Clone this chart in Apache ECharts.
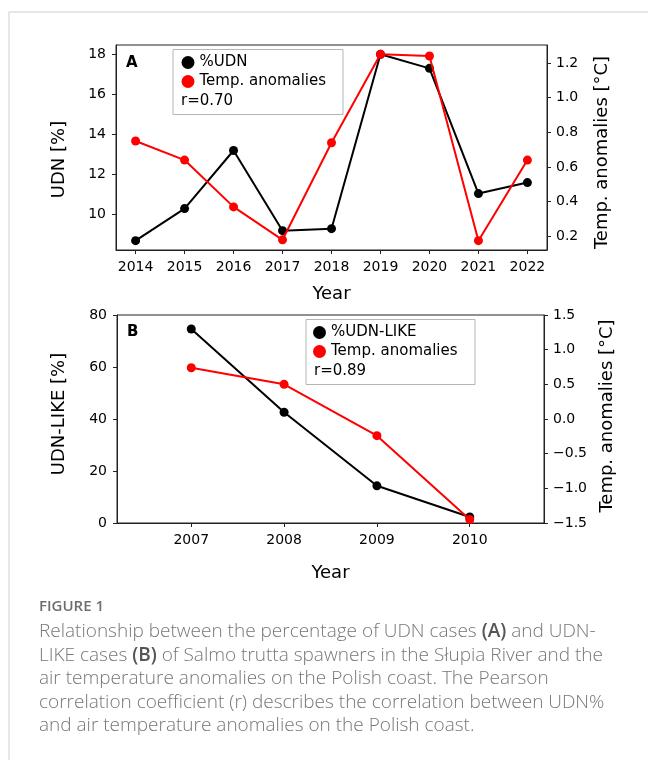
<!DOCTYPE html>
<html>
<head>
<meta charset="utf-8">
<script src="https://cdn.jsdelivr.net/npm/echarts@6/dist/echarts.min.js"></script>
<style>
html,body{margin:0;padding:0;background:#fff;}
#chart{width:648px;height:760px;}
</style>
</head>
<body>
<div id="chart"></div>
<script>
// ---- Data ----
var yearsA = [2014, 2015, 2016, 2017, 2018, 2019, 2020, 2021, 2022];
var udnA   = [8.7, 10.3, 13.2, 9.2, 9.3, 18.0, 17.3, 11.05, 11.6];
var tempA  = [0.75, 0.64, 0.37, 0.18, 0.74, 1.25, 1.24, 0.175, 0.64];

var yearsB   = [2007, 2008, 2009, 2010];
var udnLikeB = [74.6, 42.6, 14.3, 2.3];
var tempB    = [0.74, 0.50, -0.24, -1.45];

var ticksA_left  = [10, 12, 14, 16, 18];
var ticksA_right = [0.2, 0.4, 0.6, 0.8, 1.0, 1.2];
var ticksB_left  = [0, 20, 40, 60, 80];
var ticksB_right = [-1.5, -1.0, -0.5, 0.0, 0.5, 1.0, 1.5];

var legendA = ['%UDN', 'Temp. anomalies'];
var legendB = ['%UDN-LIKE', 'Temp. anomalies '];
var rA = 'r=0.70';
var rB = 'r=0.89';

// ---- helpers ----
function pad(arr, frac) {
  var mn = Math.min.apply(null, arr), mx = Math.max.apply(null, arr);
  var d = (mx - mn) * frac;
  return [mn - d, mx + d];
}
function pairs(xs, ys) { return xs.map(function (x, i) { return [x, ys[i]]; }); }

var FONT = 'DejaVu Sans';
var xA = pad(yearsA, 0.05), yAl = pad(udnA, 0.05), yAr = pad(tempA, 0.05);
var xB = [yearsB[0] - 0.8, yearsB[yearsB.length - 1] + 0.8];

var axisLineStyle = { show: true, lineStyle: { color: '#222', width: 1 } };
var tickStyle = { show: true, inside: false, length: 4, lineStyle: { color: '#222', width: 1 } };
var labelBase = { color: '#000', fontSize: 14, fontFamily: FONT };
var nameStyle = { color: '#000', fontSize: 18, fontFamily: FONT };
function nameShift(px) {
  // shift a 90°-rotated axis title along the axis: positive = downward on screen
  return Object.assign({}, nameStyle, { padding: px >= 0 ? [0, 2 * px, 0, 0] : [0, 0, 0, -2 * px] });
}
var legendText = { color: '#000', fontSize: 15, fontFamily: FONT, lineHeight: 16 };

function fmtMinus(v, digits) {
  var s = Number(v).toFixed(digits);
  return s.replace('-', '\u2212');
}

var chart = echarts.init(document.getElementById('chart'), null, { renderer: 'canvas' });

var capFont = '300 19px "Open Sans"';
var capBold = '600 19px "Open Sans"';

var option = {
  backgroundColor: '#fff',
  animation: false,
  grid: [
    { left: 116, top: 45, width: 431, height: 205, show: true, borderColor: '#222', borderWidth: 1, backgroundColor: 'transparent', containLabel: false },
    { left: 117, top: 315, width: 427, height: 208, show: true, borderColor: '#222', borderWidth: 1, backgroundColor: 'transparent', containLabel: false }
  ],
  xAxis: [
    { type: 'value', gridIndex: 0, min: xA[0], max: xA[1],
      name: 'Year', nameLocation: 'middle', nameGap: 35, nameTextStyle: nameStyle,
      axisLine: axisLineStyle, splitLine: { show: false },
      axisTick: Object.assign({ customValues: yearsA }, tickStyle),
      axisLabel: Object.assign({ customValues: yearsA, margin: 10, formatter: function (v) { return String(Math.round(v)); } }, labelBase) },
    { type: 'value', gridIndex: 1, min: xB[0], max: xB[1],
      name: 'Year', nameLocation: 'middle', nameGap: 41, nameTextStyle: nameStyle,
      axisLine: axisLineStyle, splitLine: { show: false },
      axisTick: Object.assign({ customValues: yearsB }, tickStyle),
      axisLabel: Object.assign({ customValues: yearsB, margin: 10, formatter: function (v) { return String(Math.round(v)); } }, labelBase) }
  ],
  yAxis: [
    { type: 'value', gridIndex: 0, position: 'left', min: yAl[0], max: yAl[1],
      name: 'UDN [%]', nameLocation: 'middle', nameRotate: 90, nameGap: 48, nameTextStyle: nameShift(12),
      axisLine: axisLineStyle, splitLine: { show: false },
      axisTick: Object.assign({ customValues: ticksA_left }, tickStyle),
      axisLabel: Object.assign({ customValues: ticksA_left, margin: 10, formatter: function (v) { return String(Math.round(v)); } }, labelBase) },
    { type: 'value', gridIndex: 0, position: 'right', min: yAr[0], max: yAr[1],
      name: 'Temp. anomalies [°C]', nameLocation: 'middle', nameRotate: 90, nameGap: 46, nameTextStyle: nameShift(5),
      axisLine: axisLineStyle, splitLine: { show: false },
      axisTick: Object.assign({ customValues: ticksA_right }, tickStyle),
      axisLabel: Object.assign({ customValues: ticksA_right, margin: 9, formatter: function (v) { return fmtMinus(v, 1); } }, labelBase) },
    { type: 'value', gridIndex: 1, position: 'left', min: ticksB_left[0], max: ticksB_left[ticksB_left.length - 1],
      name: 'UDN-LIKE [%]', nameLocation: 'middle', nameRotate: 90, nameGap: 49, nameTextStyle: nameShift(-5),
      axisLine: axisLineStyle, splitLine: { show: false },
      axisTick: Object.assign({ customValues: ticksB_left }, tickStyle),
      axisLabel: Object.assign({ customValues: ticksB_left, margin: 10, formatter: function (v) { return String(Math.round(v)); } }, labelBase) },
    { type: 'value', gridIndex: 1, position: 'right', min: ticksB_right[0], max: ticksB_right[ticksB_right.length - 1],
      name: 'Temp. anomalies [°C]', nameLocation: 'middle', nameRotate: 90, nameGap: 49, nameTextStyle: nameShift(-3),
      axisLine: axisLineStyle, splitLine: { show: false },
      axisTick: Object.assign({ customValues: ticksB_right }, tickStyle),
      axisLabel: Object.assign({ customValues: ticksB_right, margin: 9, formatter: function (v) { return fmtMinus(v, 1); } }, labelBase) }
  ],
  legend: [
    { data: legendA, orient: 'vertical', left: 181.5, top: 54.5, padding: 0, itemGap: 3, z: 10,
      icon: 'circle', itemWidth: 13, itemHeight: 13, selectedMode: false, textStyle: legendText },
    { data: legendB, orient: 'vertical', left: 313, top: 324.5, padding: 0, itemGap: 3, z: 10,
      icon: 'circle', itemWidth: 13, itemHeight: 13, selectedMode: false, textStyle: legendText }
  ],
  series: [
    { name: legendA[0], type: 'line', xAxisIndex: 0, yAxisIndex: 0, data: pairs(yearsA, udnA),
      symbol: 'circle', symbolSize: 9, lineStyle: { color: '#000', width: 2 }, itemStyle: { color: '#000' }, z: 2 },
    { name: legendA[1], type: 'line', xAxisIndex: 0, yAxisIndex: 1, data: pairs(yearsA, tempA),
      symbol: 'circle', symbolSize: 9, lineStyle: { color: '#ff0000', width: 2 }, itemStyle: { color: '#ff0000' }, z: 3 },
    { name: legendB[0], type: 'line', xAxisIndex: 1, yAxisIndex: 2, data: pairs(yearsB, udnLikeB),
      symbol: 'circle', symbolSize: 9, lineStyle: { color: '#000', width: 2 }, itemStyle: { color: '#000' }, z: 2 },
    { name: legendB[1], type: 'line', xAxisIndex: 1, yAxisIndex: 3, data: pairs(yearsB, tempB),
      symbol: 'circle', symbolSize: 9, lineStyle: { color: '#ff0000', width: 2 }, itemStyle: { color: '#ff0000' }, z: 3 }
  ],
  graphic: [
    // page frame lines
    { type: 'line', shape: { x1: 9, y1: 12, x2: 648, y2: 12 }, style: { stroke: '#cfcfcf', lineWidth: 1 }, silent: true },
    { type: 'line', shape: { x1: 9, y1: 12, x2: 9, y2: 760 }, style: { stroke: '#cfcfcf', lineWidth: 1 }, silent: true },
    // legend boxes
    { type: 'rect', z: 4, shape: { x: 173, y: 49.5, width: 170, height: 65 }, style: { fill: 'rgba(255,255,255,0.85)', stroke: '#b5b5b5', lineWidth: 1 }, silent: true },
    { type: 'rect', z: 4, shape: { x: 306, y: 319.5, width: 169, height: 65 }, style: { fill: 'rgba(255,255,255,0.85)', stroke: '#b5b5b5', lineWidth: 1 }, silent: true },
    { type: 'text', x: 181, y: 101.5, z: 11, style: { text: rA, fill: '#000', font: '15px "DejaVu Sans"', textVerticalAlign: 'middle' } },
    { type: 'text', x: 314, y: 371, z: 11, style: { text: rB, fill: '#000', font: '15px "DejaVu Sans"', textVerticalAlign: 'middle' } },
    // panel letters
    { type: 'text', x: 126, y: 63.5, z: 11, style: { text: 'A', fill: '#000', font: 'bold 15px "DejaVu Sans"', textVerticalAlign: 'middle' } },
    { type: 'text', x: 127, y: 332.5, z: 11, style: { text: 'B', fill: '#000', font: 'bold 15px "DejaVu Sans"', textVerticalAlign: 'middle' } },
    // caption
    { type: 'text', x: 39, y: 607, style: { text: 'FIGURE 1', fill: '#6e6e6e', font: '600 15px "Open Sans"', textVerticalAlign: 'middle' } },
    { type: 'text', x: 39, y: 632, style: { text: 'Relationship between the percentage of UDN cases {b|(A)} and UDN-', fill: '#777', font: capFont, textVerticalAlign: 'middle', rich: { b: { fill: '#555', font: capBold } } } },
    { type: 'text', x: 39, y: 655.5, style: { text: 'LIKE cases {b|(B)} of Salmo trutta spawners in the Słupia River and the', fill: '#777', font: capFont, textVerticalAlign: 'middle', rich: { b: { fill: '#555', font: capBold } } } },
    { type: 'text', x: 39, y: 679, style: { text: 'air temperature anomalies on the Polish coast. The Pearson', fill: '#777', font: capFont, textVerticalAlign: 'middle' } },
    { type: 'text', x: 39, y: 702.5, style: { text: 'correlation coefficient (r) describes the correlation between UDN%', fill: '#777', font: capFont, textVerticalAlign: 'middle' } },
    { type: 'text', x: 39, y: 726, style: { text: 'and air temperature anomalies on the Polish coast.', fill: '#777', font: capFont, textVerticalAlign: 'middle' } }
  ]
};
chart.setOption(option);
</script>
</body>
</html>
